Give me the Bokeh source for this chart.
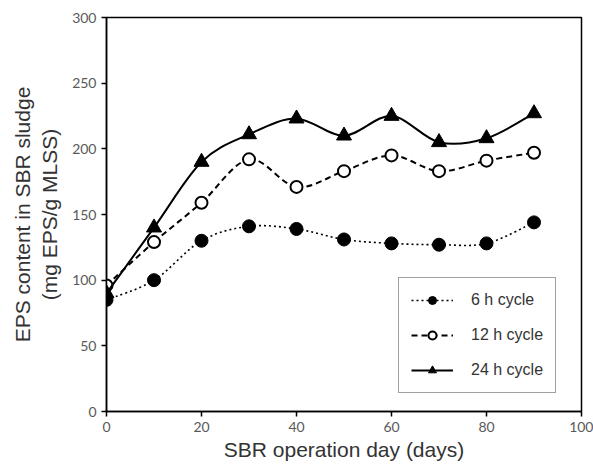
from bokeh.plotting import figure
from bokeh.models import Range1d, FixedTicker, Legend, LegendItem, ColumnDataSource
from bokeh.embed import file_html
from bokeh.resources import INLINE

days = [0, 10, 20, 30, 40, 50, 60, 70, 80, 90]
eps_6h = [85, 100, 130, 141, 139, 131, 128, 127, 128, 144]
eps_12h = [96, 129, 159, 192, 171, 183, 195, 183, 191, 197]
eps_24h = [90, 140, 190, 211, 223, 210, 225, 205, 208, 227]
labels = ["6 h cycle", "12 h cycle", "24 h cycle"]
x_ticks = [0, 20, 40, 60, 80, 100]
y_ticks = [0, 50, 100, 150, 200, 250, 300]


def smooth_segments(xs, ys):
    # Catmull-Rom style control points (like a spreadsheet "smoothed line")
    n = len(xs)
    d = dict(x0=[], y0=[], x1=[], y1=[], cx0=[], cy0=[], cx1=[], cy1=[])
    for i in range(n - 1):
        im = max(i - 1, 0)
        ip = min(i + 2, n - 1)
        d["x0"].append(xs[i]); d["y0"].append(ys[i])
        d["x1"].append(xs[i + 1]); d["y1"].append(ys[i + 1])
        d["cx0"].append(xs[i] + (xs[i + 1] - xs[im]) / 6)
        d["cy0"].append(ys[i] + (ys[i + 1] - ys[im]) / 6)
        d["cx1"].append(xs[i + 1] - (xs[ip] - xs[i]) / 6)
        d["cy1"].append(ys[i + 1] - (ys[ip] - ys[i]) / 6)
    return ColumnDataSource(d)


p = figure(width=593, height=464, output_backend="svg", toolbar_location=None,
           x_range=Range1d(0, 100), y_range=Range1d(0, 300),
           min_border_left=106, min_border_right=12, min_border_top=17, min_border_bottom=53)
p.background_fill_color = "white"
p.border_fill_color = "white"
p.outline_line_color = "black"
p.outline_line_width = 1.5
p.xgrid.visible = False
p.ygrid.visible = False

for ax in (p.xaxis, p.yaxis):
    ax.axis_line_color = "black"
    ax.axis_line_width = 1.5
    ax.major_tick_line_color = "black"
    ax.major_tick_line_width = 1.5
    ax.major_tick_out = 5
    ax.major_tick_in = 0
    ax.minor_tick_line_color = None
    ax.major_label_text_font = "Lato"
    ax.major_label_text_font_size = "14px"
    ax.major_label_text_color = "#595959"
    ax.axis_label_text_font = "Liberation Sans"
    ax.axis_label_text_font_size = "21px"
    ax.axis_label_text_font_style = "normal"
    ax.axis_label_text_color = "#333333"

p.xaxis.ticker = FixedTicker(ticks=x_ticks)
p.yaxis.ticker = FixedTicker(ticks=y_ticks)
p.xaxis.axis_label = "SBR operation day (days)"
p.yaxis.axis_label = "EPS content in SBR sludge\n(mg EPS/g MLSS)"
p.xaxis.axis_label_standoff = 3
p.yaxis.axis_label_standoff = 8

items = []
# 6 h cycle
b1 = p.bezier(x0="x0", y0="y0", x1="x1", y1="y1", cx0="cx0", cy0="cy0", cx1="cx1", cy1="cy1",
              source=smooth_segments(days, eps_6h), line_color="black", line_width=1.6, line_dash="2 3")
s1 = p.scatter(days, eps_6h, marker="circle", size=13, fill_color="black", line_color="black")
items.append(LegendItem(label=labels[0], renderers=[b1, s1]))
# 12 h cycle
b2 = p.bezier(x0="x0", y0="y0", x1="x1", y1="y1", cx0="cx0", cy0="cy0", cx1="cx1", cy1="cy1",
              source=smooth_segments(days, eps_12h), line_color="black", line_width=2, line_dash="6 4")
s2 = p.scatter(days, eps_12h, marker="circle", size=12, fill_color="white", line_color="black", line_width=2)
items.append(LegendItem(label=labels[1], renderers=[b2, s2]))
# 24 h cycle
b3 = p.bezier(x0="x0", y0="y0", x1="x1", y1="y1", cx0="cx0", cy0="cy0", cx1="cx1", cy1="cy1",
              source=smooth_segments(days, eps_24h), line_color="black", line_width=2)
s3 = p.scatter(days, eps_24h, marker="triangle", size=15, fill_color="black", line_color="black")
items.append(LegendItem(label=labels[2], renderers=[b3, s3]))

legend = Legend(items=items, location=(292, 18))
legend.label_text_font = "Liberation Sans"
legend.label_text_font_size = "16px"
legend.label_text_color = "#333333"
legend.glyph_width = 42
legend.glyph_height = 20
legend.label_height = 20
legend.label_standoff = 18
legend.spacing = 15
legend.padding = 12
legend.margin = 0
legend.border_line_color = "#444444"
legend.border_line_width = 1.2
legend.background_fill_color = "white"
legend.background_fill_alpha = 1
p.add_layout(legend, "center")

open("out.html", "w").write(file_html(p, INLINE))
